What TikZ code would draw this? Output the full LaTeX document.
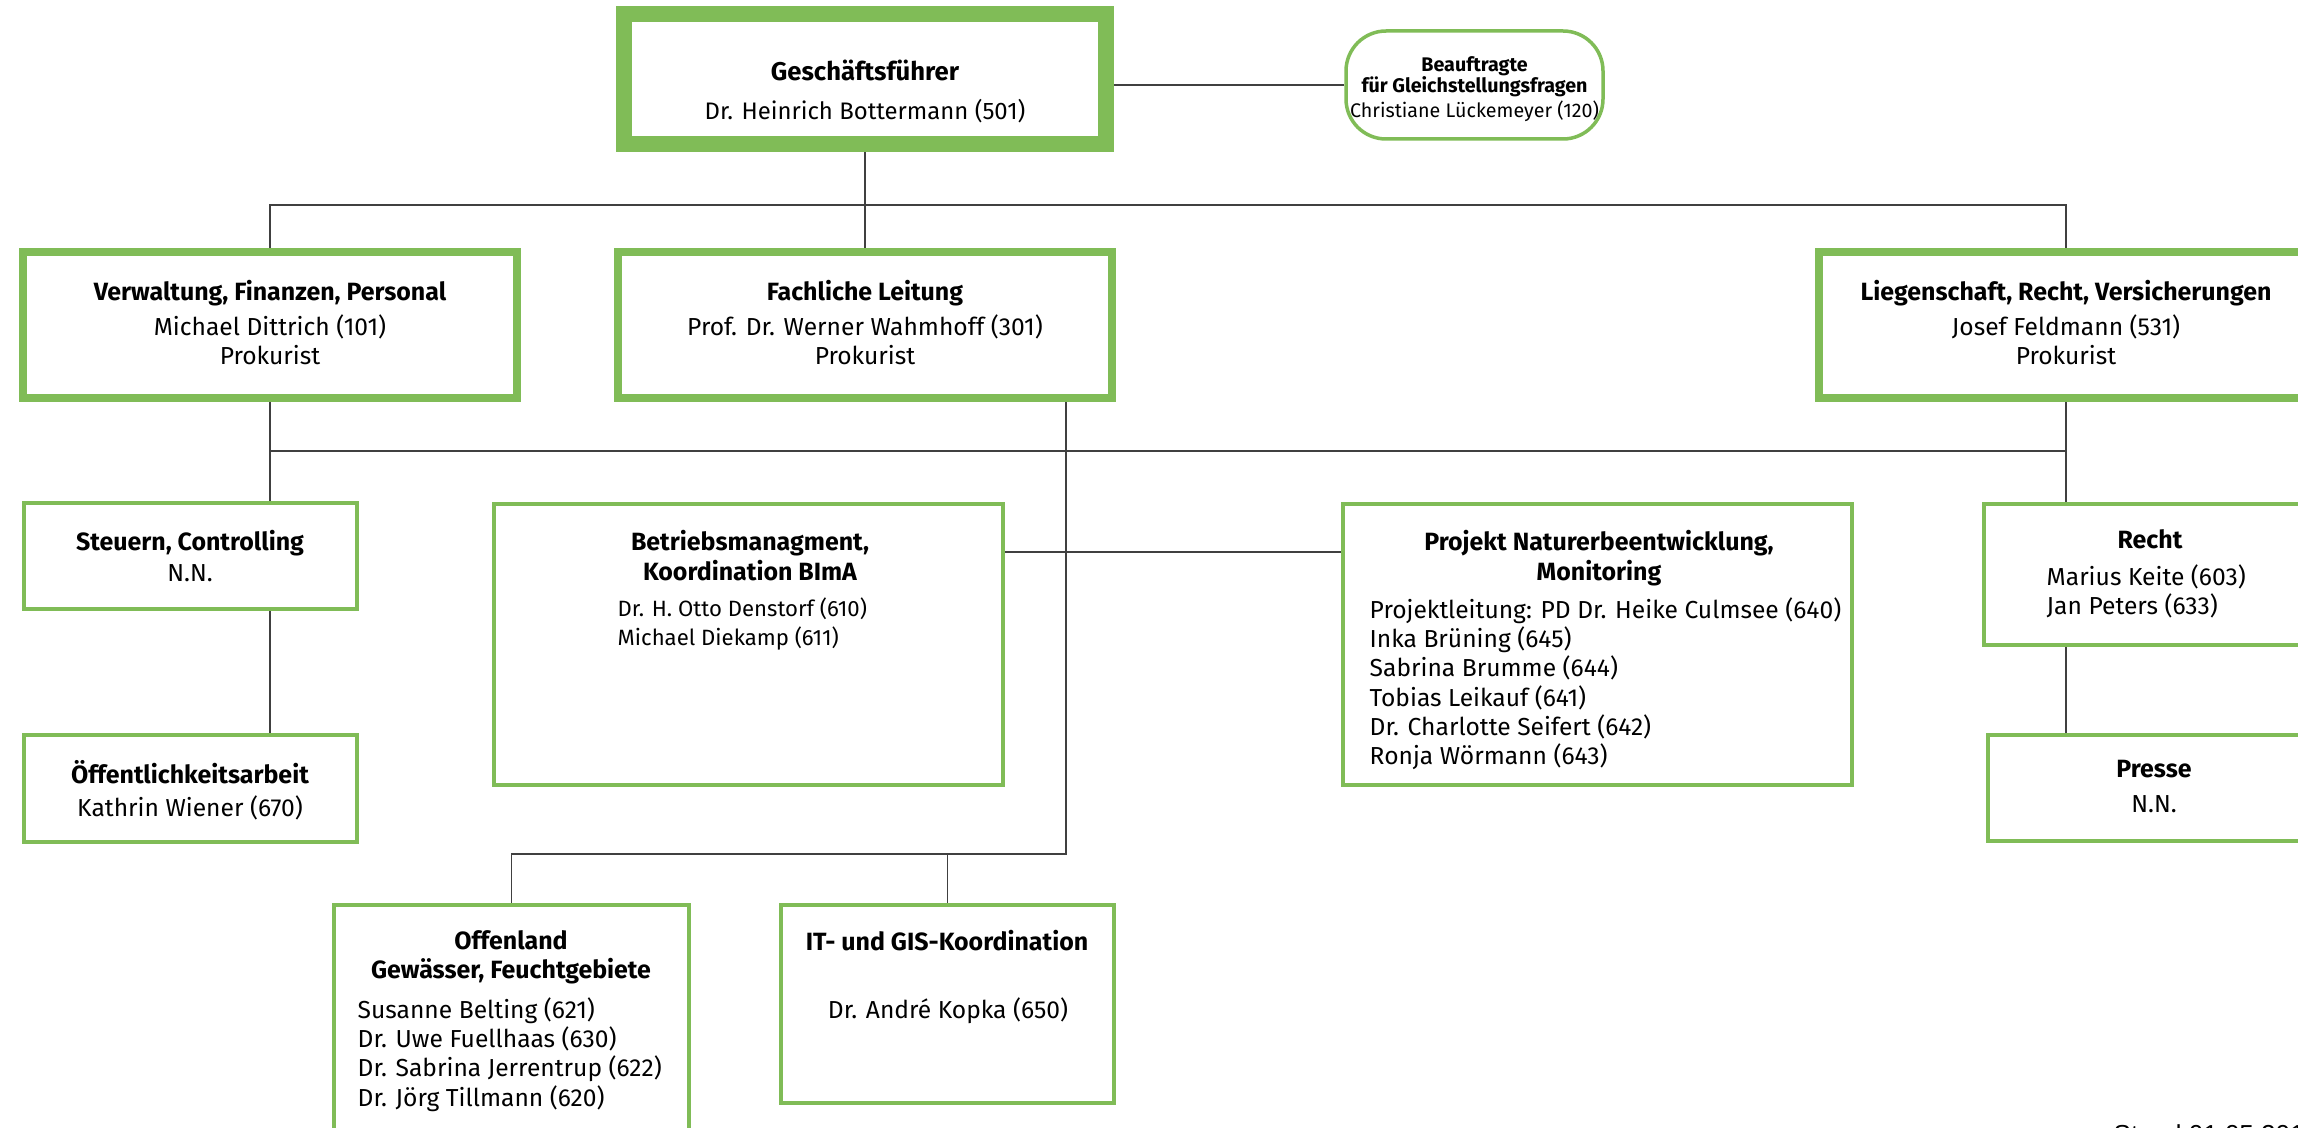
\documentclass[tikz,border=0pt]{standalone}
\usepackage{fontspec}
\setmainfont{Fira Sans}
\newfontfamily\standfont{Liberation Sans}
\usetikzlibrary{backgrounds}
\definecolor{lgreen}{RGB}{128,188,87}

\begin{document}
\begin{tikzpicture}[x = 0.1mm, y = -0.1mm,
            chief/.style = {draw = lgreen, line width = 1.6mm, fill = white, minimum width = 48.2mm, minimum height = 13mm, inner sep = 0pt},
            head/.style = {draw = lgreen, line width = 0.8mm, fill = white, minimum width = 49.4mm, minimum height = 14.7mm, inner sep = 0pt},
            unit/.style = {draw = lgreen, line width = 0.4mm, fill = white, inner sep = 0pt},
            title/.style = {font = \fontsize{7.1}{8.3}\selectfont\bfseries, inner sep = 0pt, anchor = north, align = center},
            body/.style = {font = \fontsize{7}{8.3}\selectfont, inner sep = 0pt, anchor = north, align = center},
            list/.style = {body, anchor = north west, align = left},
            link/.style = {draw = black!75, line width = 0.15mm}]
            \path [use as bounding box] (0, 0) rectangle (2298, 1128);
            % boxes
            \node [chief] (gf) at (865, 79) {};
            \node [unit, line width = 0.35mm, rounded corners = 4mm, minimum width = 25.7mm, minimum height = 10.8mm] (gleich) at (1474.5, 85) {};
            \node [head] (verw) at (270, 325) {};
            \node [head] (fach) at (865, 325) {};
            \node [head] (lieg) at (2066, 325) {};
            \node [unit, minimum width = 33.3mm, minimum height = 10.6mm] (steuer) at (190, 556) {};
            \node [unit, minimum width = 33.3mm, minimum height = 10.7mm] (oeff) at (190, 788.5) {};
            \node [unit, minimum width = 50.9mm, minimum height = 28.1mm] (betrieb) at (748.5, 644.5) {};
            \node [unit, minimum width = 50.9mm, minimum height = 28.1mm] (projekt) at (1597.5, 644.5) {};
            \node [unit, minimum width = 33.3mm, minimum height = 14.1mm] (recht) at (2150.5, 574.5) {};
            \node [unit, minimum width = 33.3mm, minimum height = 10.6mm] (presse) at (2154.5, 788) {};
            \node [unit, minimum width = 35.5mm, minimum height = 25.5mm] (offen) at (511.5, 1032.5) {};
            \node [unit, minimum width = 33.3mm, minimum height = 19.8mm] (it) at (947.5, 1004) {};
            \coordinate (split) at (1066, 854);
            % lines
            \begin{scope}[on background layer]
                \fill [white] (0, 0) rectangle (2298, 1128);
                \draw [link] (gleich.west) -- (gleich.west -| gf.east);
                \draw [link] (gf.south) -- (fach.north);
                \draw [link] (verw.north) |- (lieg.north |- 0, 205) -- (lieg.north);
                \draw [link] (verw.south) |- (lieg.south |- 0, 451) -- (lieg.south);
                \draw [link] (verw.south) -- (verw.south |- steuer.north);
                \draw [link] (verw.south |- steuer.south) -- (verw.south |- oeff.north);
                \draw [link] (lieg.south) -- (lieg.south |- recht.north);
                \draw [link] (lieg.south |- recht.south) -- (lieg.south |- presse.north);
                \draw [link] (fach.south -| split) -- (split) -| (offen.north);
                \draw [link] (split -| it.north) -- (it.north);
                \draw [link] (betrieb.east |- 0, 552) -- (projekt.west |- 0, 552);
            \end{scope}
            % texts
            \node [title, font = \fontsize{7.3}{8.6}\selectfont\bfseries] (gft) at (865, 59) {Geschäftsführer};
            \node [body, font = \fontsize{6.8}{8.6}\selectfont] (gfn) at (865, 99) {Dr. Heinrich Bottermann (501)};
            \node [title, font = \fontsize{5.6}{6}\selectfont\bfseries] (gleicht) at (1474.5, 56) {Beauftragte\\für Gleichstellungsfragen};
            \node [body, font = \fontsize{5.6}{6}\selectfont] (gleichn) at (1474.5, 100) {Christiane Lückemeyer (120)};
            \node [title] (verwt) at (270, 280) {Verwaltung, Finanzen, Personal};
            \node [body] (verwn) at (270, 314) {Michael Dittrich (101)\\Prokurist};
            \node [title] (facht) at (865, 280) {Fachliche Leitung};
            \node [body] (fachn) at (865, 314) {Prof. Dr. Werner Wahmhoff (301)\\Prokurist};
            \node [title] (liegt) at (2066, 280) {Liegenschaft, Recht, Versicherungen};
            \node [body] (liegn) at (2066, 314) {Josef Feldmann (531)\\Prokurist};
            \node [title] (steuert) at (190, 530) {Steuern, Controlling};
            \node [body] (steuern) at (190, 564) {N.N.};
            \node [title] (oefft) at (190, 760) {Öffentlichkeitsarbeit};
            \node [body] (oeffn) at (190, 795) {Kathrin Wiener (670)};
            \node [title] (betriebt) at (750, 530) {Betriebsmanagment,\\Koordination BImA};
            \node [list, font = \fontsize{6.3}{8.3}\selectfont] (betriebn) at (617, 597) {Dr. H. Otto Denstorf (610)\\Michael Diekamp (611)};
            \node [title] (projektt) at (1599, 530) {Projekt Naturerbeentwicklung,\\Monitoring};
            \node [list] (projektn) at (1369, 597) {Projektleitung: PD Dr. Heike Culmsee (640)\\Inka Brüning (645)\\Sabrina Brumme (644)\\Tobias Leikauf (641)\\Dr. Charlotte Seifert (642)\\Ronja Wörmann (643)};
            \node [title] (rechtt) at (2150, 529) {Recht};
            \node [list] (rechtn) at (2046, 564) {Marius Keite (603)\\Jan Peters (633)};
            \node [title] (presset) at (2154, 760) {Presse};
            \node [body] (pressen) at (2154, 795) {N.N.};
            \node [title] (offent) at (511, 930) {Offenland\\Gewässer, Feuchtgebiete};
            \node [list] (offenn) at (357, 997) {Susanne Belting (621)\\Dr. Uwe Fuellhaas (630)\\Dr. Sabrina Jerrentrup (622)\\Dr. Jörg Tillmann (620)};
            \node [title] (itt) at (947, 930) {IT- und GIS-Koordination};
            \node [body] (itn) at (948, 997) {Dr. André Kopka (650)};
            \node [font = \standfont\fontsize{7.4}{9}\selectfont, anchor = base west, inner sep = 0pt] (stand) at (2113, 1143) {Stand 01.05.201};
        \end{tikzpicture}
\end{document}
